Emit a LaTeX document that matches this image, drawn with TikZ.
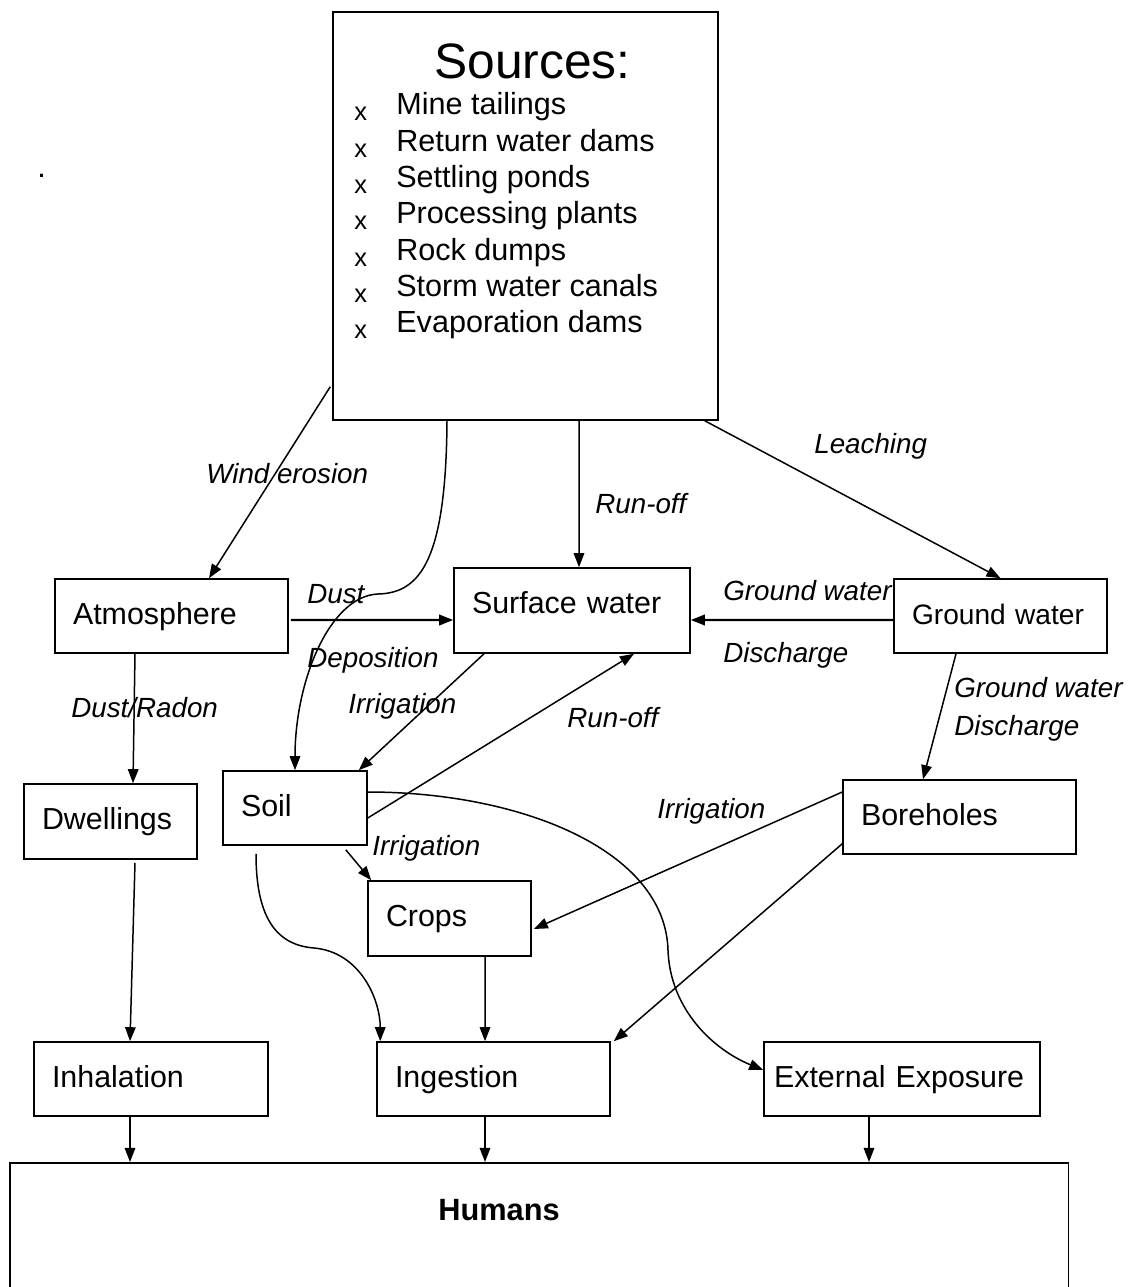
\documentclass[tikz,border=0pt]{standalone}
\usepackage{fontspec}
\setmainfont{Liberation Sans}
\usetikzlibrary{arrows.meta,calc}
\begin{document}
\begin{tikzpicture}[x=0.02cm, y=-0.02cm,
    box/.style = {draw, line width=0.9pt, inner xsep=0.36cm, minimum height=1.48cm, text height=0.44cm, text depth=0.12cm, align=left, font=\fontsize{17.3}{20}\selectfont},
    lbl/.style = {anchor=base west, inner sep=0pt, font=\fontsize{15.8}{19}\selectfont\itshape},
    item/.style = {anchor=base west, inner sep=0pt, font=\fontsize{17.4}{20}\selectfont},
    arr/.style = {-{Triangle[length=8pt,width=6pt]}, line width=0.85pt}]
    \useasboundingbox (0,0) rectangle (1141,1287);
    \node[draw, line width=0.9pt, minimum width=7.7cm, minimum height=8.16cm] (src) at (525.5,216) {};
    \node[item, font=\fontsize{28.3}{32}\selectfont] (title) at (434,79) {Sources:};
    \foreach \t [count=\i] in {Mine tailings, Return water dams, Settling ponds, Processing plants, Rock dumps, Storm water canals, Evaporation dams} {
        \node[item] (s\i) at (396,{115+36.3*(\i-1)}) {\t};
        \node[item, font=\fontsize{14.5}{16}\selectfont] (x\i) at (354,{121+36.3*(\i-1)}) {x};
    }
    \node[item] (dot) at (37,178) {.};
    \node[box, text width=3.94cm] (atmos) at (171.5,616) {Atmosphere};
    \node[box, text width=4cm, minimum height=1.7cm, text depth=0.34cm] (surf) at (572,610.5) {Surface water};
    \node[box, text width=3.54cm, font=\fontsize{16}{19}\selectfont] (ground) at (1000.5,616) {Ground water};
    \node[box, text width=2.74cm, minimum height=1.5cm] (dwell) at (110.5,821.5) {Dwellings};
    \node[box, text width=2.16cm] (soil) at (295,808) {Soil};
    \node[box, text width=3.94cm] (bore) at (959.5,817) {Boreholes};
    \node[box, text width=2.54cm, minimum height=1.5cm] (crops) at (449.5,918.5) {Crops};
    \node[box, text width=3.96cm] (inhal) at (151,1079) {Inhalation};
    \node[box, text width=3.94cm] (inges) at (493.5,1079) {Ingestion};
    \node[box, text width=5.12cm, inner xsep=0.2cm] (ext) at (902,1079) {External Exposure};
    \node[draw, line width=0.9pt, anchor=north west, minimum width=21.18cm, minimum height=3cm] (humans) at (9,1162) {};
    \node[item, font=\fontsize{17.5}{20}\selectfont\bfseries] (humtxt) at (438,1220) {Humans};
    \coordinate (dust) at (378,594);
    \coordinate (bend) at (314,948);
    \coordinate (loop) at (668,950);
    \draw[arr] ($(src.south west)+(-2,-34)$) -- ($(atmos.north)+(37.5,0)$);
    \draw[arr] ($(src.south)+(-78.5,0)$) .. controls +(-1,140) and +(42,-1) .. (dust) .. controls +(-48,2) and +(0,-90) .. (soil.north);
    \draw[arr] ($(src.south)+(53.5,0)$) -- ($(surf.north)+(7,0)$);
    \draw[arr] ($(src.south east)+(-14,0)$) -- (ground.north);
    \draw[arr, line width=1.2pt] ($(atmos.east)+(2,4)$) -- ($(surf.west)+(0,9.5)$);
    \draw[arr, line width=1.2pt] ($(ground.west)+(0,4)$) -- ($(surf.east)+(0,9.5)$);
    \draw[arr] ($(atmos.south)+(-36.5,0)$) -- ($(dwell.north)+(22.5,0)$);
    \draw[arr] ($(surf.south)+(-88,0)$) -- ($(soil.north east)+(-9,0)$);
    \draw[arr] ($(soil.east)+(0,10)$) -- ($(surf.south)+(62,0)$);
    \draw[arr] ($(ground.south)+(-44.5,0)$) -- ($(bore.north)+(-36.5,0)$);
    \draw[arr] ($(dwell.south)+(24.5,3)$) -- ($(inhal.north)+(-21,0)$);
    \draw[arr] ($(soil.south east)+(-22,4)$) -- ($(crops.north west)+(4,0)$);
    \draw[arr] ($(bore.west)+(0,-25)$) -- ($(crops.east)+(2,10.5)$);
    \draw[arr] ($(bore.south west)+(0,-11)$) -- ($(inges.north east)+(3,0)$);
    \draw[arr] ($(crops.south)+(35.5,0)$) -- ($(inges.north)+(-8.5,0)$);
    \draw[arr] ($(soil.south)+(-39,8)$) .. controls +(0,62) and +(-39,-3) .. (bend) .. controls +(46,4) and +(0,-42) .. ($(inges.north west)+(4,0)$);
    \draw[arr] ($(soil.east)+(0,-16)$) .. controls +(153,0) and +(-3,-100) .. (loop) .. controls +(2,60) and +(-49,-20) .. ($(ext.west)+(0,-9)$);
    \foreach \n/\dx in {inhal/-21, inges/-8.5, ext/-33}
        \draw[arr] ($(\n.south)+(\dx,0)$) coordinate (h) -- (h |- humans.north);
    \node[lbl] (lwind) at (206,483) {Wind erosion};
    \node[lbl] (lrun1) at (595,513) {Run-off};
    \node[lbl] (lleach) at (814,453) {Leaching};
    \node[lbl] (ldust) at (307,603) {Dust};
    \node[lbl] (ldepo) at (307,667) {Deposition};
    \node[lbl] (lgw1) at (723,600) {Ground water};
    \node[lbl] (ldis1) at (723,662) {Discharge};
    \node[lbl] (lradon) at (71,717) {Dust/Radon};
    \node[lbl] (lirr1) at (348,713) {Irrigation};
    \node[lbl] (lrun2) at (567,727) {Run-off};
    \node[lbl] (lgw2) at (954,697) {Ground water};
    \node[lbl] (ldis2) at (954,735) {Discharge};
    \node[lbl] (lirr2) at (657,818) {Irrigation};
    \node[lbl] (lirr3) at (372,855) {Irrigation};
\end{tikzpicture}
\end{document}
